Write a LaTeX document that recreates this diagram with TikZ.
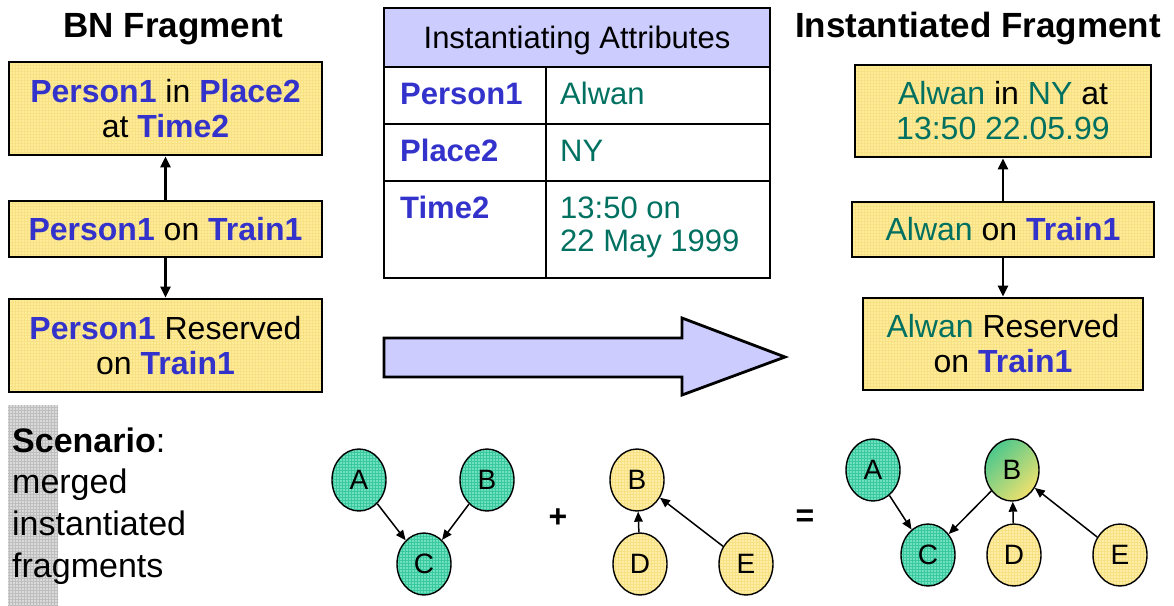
\documentclass[tikz,border=0pt]{standalone}
\usepackage{fontspec}
\setmainfont{Liberation Sans}
\usetikzlibrary{arrows.meta,shapes.geometric,patterns}
\definecolor{bnblue}{RGB}{51,51,204}
\definecolor{bnteal}{RGB}{0,112,96}
\definecolor{boxyellow}{RGB}{255,236,153}
\definecolor{gridyellow}{RGB}{248,224,132}
\definecolor{nodeyellow}{RGB}{255,238,165}
\definecolor{nodegreen}{RGB}{110,226,190}
\definecolor{gridgreen}{RGB}{60,200,158}
\definecolor{shadegreen}{RGB}{76,200,140}
\definecolor{shadeyellow}{RGB}{240,225,110}
\definecolor{lavender}{RGB}{204,204,255}
\definecolor{stripgray}{RGB}{218,218,218}
\definecolor{gridgray}{RGB}{190,190,190}
\newcommand\bluet[1]{{\color{bnblue}\bfseries #1}}
\newcommand\tealt[1]{{\color{bnteal}#1}}
\begin{document}
\begin{tikzpicture}[x=1pt,y=-1pt,
  fragbox/.style={preaction={fill=boxyellow}, pattern=grid, pattern color=gridyellow,
    draw, line width=2.8pt, inner sep=0pt, align=center,
    font=\fontsize{32}{35}\selectfont},
  toparrow/.style={line width=2.4pt, -{Triangle[length=11pt,width=10pt]}},
  title/.style={font=\fontsize{35}{40}\selectfont\bfseries, inner sep=0pt},
  celltext/.style={font=\fontsize{31}{33}\selectfont, inner sep=0pt, anchor=base west, align=left},
  bnnode/.style={ellipse, draw, line width=1.4pt, minimum width=54pt, minimum height=62pt,
    inner sep=0pt, font=\fontsize{28}{30}\selectfont},
  greennode/.style={bnnode, preaction={fill=nodegreen}, pattern=grid, pattern color=gridgreen},
  yellownode/.style={bnnode, preaction={fill=nodeyellow}, pattern=grid, pattern color=gridyellow},
  edge/.style={line width=1.5pt, -{Triangle[length=10pt,width=8.5pt]}},
  opsign/.style={font=\fontsize{32}{34}\selectfont\bfseries, inner sep=0pt}
]
\useasboundingbox (0,0) rectangle (1174,605);

% titles
\node[title, anchor=base] (t1) at (173.5,37) {BN Fragment};
\node[title, anchor=base west] (t2) at (795,37) {Instantiated Fragment};

% left fragment
\node[fragbox, minimum width=313pt, minimum height=93pt] (L1) at (165.5,108.5)
  {\bluet{Person1} in \bluet{Place2}\\ at \bluet{Time2}};
\node[fragbox, minimum width=313pt, minimum height=56pt] (L2) at (165.5,229)
  {\bluet{Person1} on \bluet{Train1}};
\node[fragbox, minimum width=313pt, minimum height=93pt] (L3) at (165.5,345.5)
  {\bluet{Person1} Reserved\\ on \bluet{Train1}};
\draw[toparrow] (L2) -- (L1);
\draw[toparrow] (L2) -- (L3);

% right fragment
\node[fragbox, minimum width=296pt, minimum height=92pt] (R1) at (1003,111)
  {\tealt{Alwan} in \tealt{NY} at\\ \tealt{13:50 22.05.99}};
\node[fragbox, minimum width=302pt, minimum height=55pt] (R2) at (1003,229.5)
  {\tealt{Alwan} on \bluet{Train1}};
\node[fragbox, minimum width=280pt, minimum height=92pt] (R3) at (1003,344)
  {\tealt{Alwan} Reserved\\ on \bluet{Train1}};
\draw[toparrow] (R2) -- (R1);
\draw[toparrow] (R2) -- (R3);

% table
\fill[lavender] (384,8) rectangle (770,67);
\draw[line width=2pt] (384,67) -- (770,67);
\draw[line width=2pt] (384,124) -- (770,124);
\draw[line width=2pt] (384,181) -- (770,181);
\draw[line width=2pt] (546,67) -- (546,278);
\draw[line width=2.8pt] (384,8) rectangle (770,278);
\node[font=\fontsize{31}{33}\selectfont, inner sep=0pt, anchor=base] (th) at (577,48) {Instantiating Attributes};
\node[celltext] (k1) at (400,104) {\bluet{Person1}};
\node[celltext] (v1) at (560,104) {\tealt{Alwan}};
\node[celltext] (k2) at (400,161) {\bluet{Place2}};
\node[celltext] (v2) at (560,161) {\tealt{NY}};
\node[celltext] (k3) at (400,218) {\bluet{Time2}};
\node[celltext] (v3) at (560,218) {\tealt{13:50 on}};
\node[celltext] (v3b) at (560,251) {\tealt{22 May 1999}};

% big arrow
\draw[line width=2.8pt, fill=lavender, line join=miter]
  (384,338) -- (682,338) -- (682,318) -- (785,357) -- (682,395) -- (682,377) -- (384,377) -- cycle;

% scenario
\fill[stripgray] (8,405) rectangle (58,605);
\fill[pattern=grid, pattern color=gridgray] (8,405) rectangle (58,605);
\node[font=\fontsize{34}{41.5}\selectfont, inner sep=0pt, anchor=base west] (s1) at (12,452) {\textbf{Scenario}:};
\node[font=\fontsize{34}{41.5}\selectfont, inner sep=0pt, anchor=base west] (s2) at (12,493) {merged};
\node[font=\fontsize{34}{41.5}\selectfont, inner sep=0pt, anchor=base west] (s3) at (12,535) {instantiated};
\node[font=\fontsize{34}{41.5}\selectfont, inner sep=0pt, anchor=base west] (s4) at (12,577) {fragments};

% graph 1
\node[greennode] (A1) at (359,480) {A};
\node[greennode] (B1) at (487,480) {B};
\node[greennode] (C1) at (424,564) {C};
\draw[edge] (A1) -- (C1);
\draw[edge] (B1) -- (C1);
\node[opsign] (plus) at (558,518) {+};

% graph 2
\node[yellownode] (B2) at (637,480) {B};
\node[yellownode] (D2) at (640,564) {D};
\node[yellownode] (E2) at (746,564) {E};
\draw[edge] (D2) -- (B2);
\draw[edge] (E2) -- (B2);
\node[opsign] (eq) at (805,518) {=};

% graph 3
\node[greennode] (A3) at (873,470) {A};
\node[bnnode, top color=shadegreen, bottom color=shadeyellow, shading angle=45] (B3) at (1012,470) {B};
\node[greennode] (C3) at (928,555) {C};
\node[yellownode] (D3) at (1014,555) {D};
\node[yellownode] (E3) at (1120,555) {E};
\draw[edge] (A3) -- (C3);
\draw[edge] (B3) -- (C3);
\draw[edge] (D3) -- (B3);
\draw[edge] (E3) -- (B3);
\end{tikzpicture}
\end{document}
